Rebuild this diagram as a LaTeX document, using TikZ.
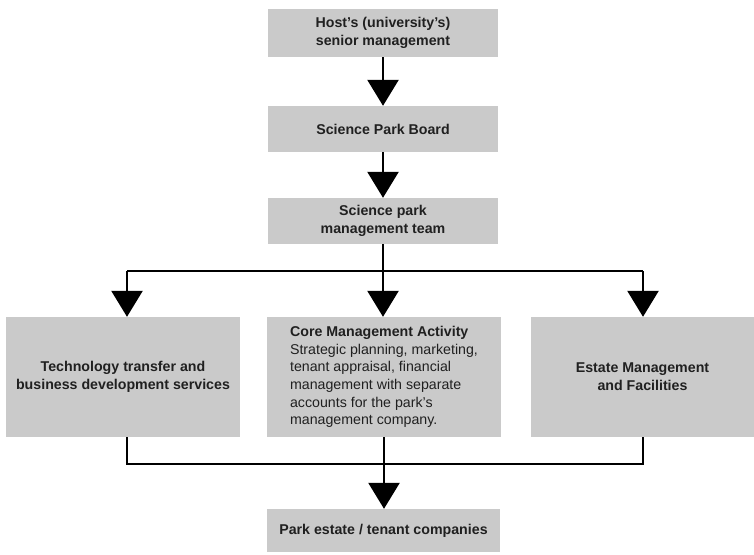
\documentclass[tikz,border=0pt]{standalone}
\usepackage{fontspec}
\setmainfont{Liberation Sans}
\usetikzlibrary{shapes,arrows.meta}
\definecolor{boxgray}{RGB}{202,202,202}
\definecolor{inkgray}{RGB}{32,32,32}
\tikzstyle{block} = [fill=boxgray, inner sep=0pt, align=center, text=inkgray, font=\fontsize{14.2}{17.7}\selectfont\bfseries]
\tikzstyle{textblock} = [block, align=left, font=\fontsize{14.2}{17.7}\selectfont]
\tikzstyle{line} = [draw, line width=2.6pt, -{Triangle[length=26pt,width=31pt]}]
\tikzstyle{bus} = [draw, line width=2.6pt]

\begin{document}
\begin{tikzpicture}[x=1pt, y=-1pt]
    \useasboundingbox (0,0) rectangle (754,554);
    % chain of command, top down
    \node [block, minimum width=230, minimum height=48] (host) at (383,33) {Host's (university's)\\senior management};
    \node [block, minimum width=230, minimum height=46] (board) at (383,129) {Science Park Board};
    \node [block, minimum width=230, minimum height=46] (team) at (383,221) {Science park\\management team};
    % the three activity areas
    \node [block, minimum width=234, minimum height=120] (tech) at (123,377) {Technology transfer and\\business development services};
    \node [textblock, minimum width=234, minimum height=120] (core) at (384,377) {\textbf{Core Management Activity}\\Strategic planning, marketing,\\tenant appraisal, financial\\management with separate\\accounts for the park's\\management company.};
    \node [block, minimum width=223, minimum height=120] (estate) at (642.5,377) {Estate Management\\and Facilities};
    \node [block, minimum width=233, minimum height=43] (park) at (383.5,530.5) {Park estate / tenant companies};

    \coordinate (splitL) at (127,271);
    \coordinate (splitR) at (643,271);
    \coordinate (joinL) at (127,464);
    \coordinate (joinR) at (643,464);

    \path [line] (host.south) -- (board.north);
    \path [line] (board.south) -- (team.north);
    \path [bus] (splitL) -- (splitR);
    \path [line] (team.south) -- (team.south |- core.north);
    \path [line] (splitL) -- (splitL |- tech.north);
    \path [line] (splitR) -- (splitR |- estate.north);
    \path [bus] (joinL |- tech.south) -- (joinL) -- (joinR) -- (joinR |- estate.south);
    \path [line] (core.south) -- (core.south |- park.north);
\end{tikzpicture}
\end{document}
